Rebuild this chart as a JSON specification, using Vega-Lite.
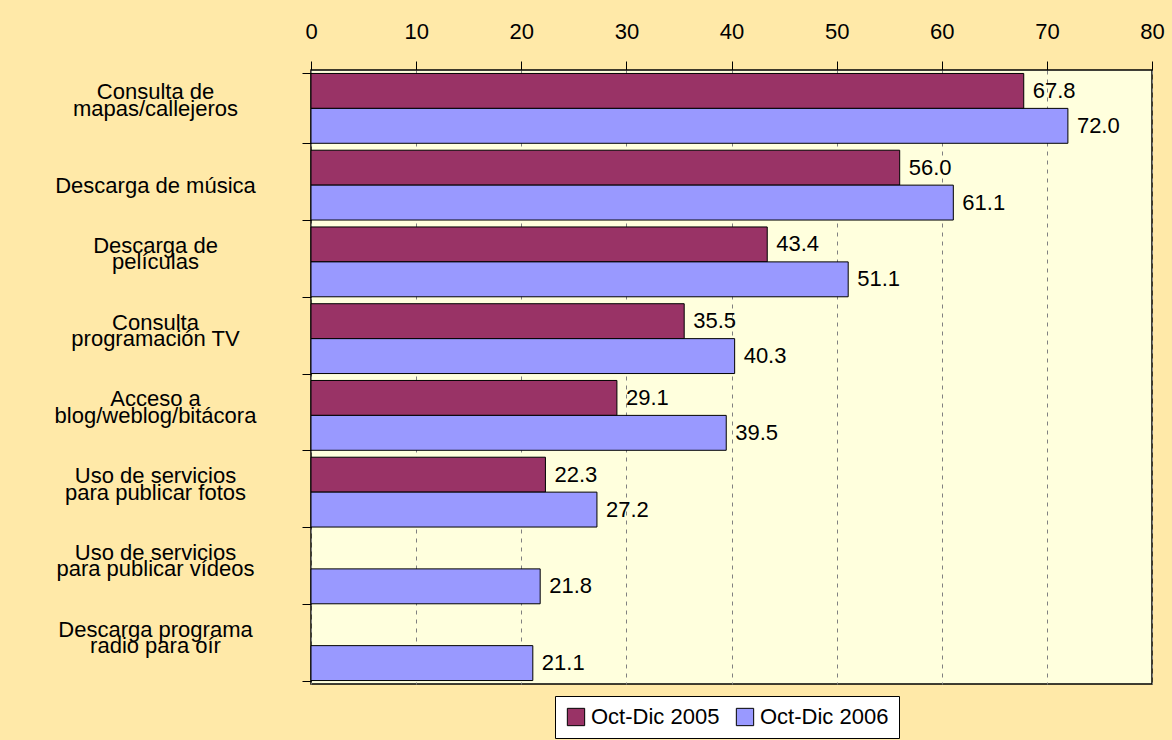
{
  "$schema": "https://vega.github.io/schema/vega-lite/v6.json",
  "width": 841,
  "height": 614,
  "autosize": {"type": "none"},
  "padding": {"left": 311, "top": 70, "right": 20, "bottom": 56},
  "background": "#FFE9A8",
  "data": {
    "values": [
      {"actividad": "Consulta de|mapas/callejeros", "periodo": "Oct-Dic 2005", "valor": 67.8},
      {"actividad": "Consulta de|mapas/callejeros", "periodo": "Oct-Dic 2006", "valor": 72.0},
      {"actividad": "Descarga de música", "periodo": "Oct-Dic 2005", "valor": 56.0},
      {"actividad": "Descarga de música", "periodo": "Oct-Dic 2006", "valor": 61.1},
      {"actividad": "Descarga de|películas", "periodo": "Oct-Dic 2005", "valor": 43.4},
      {"actividad": "Descarga de|películas", "periodo": "Oct-Dic 2006", "valor": 51.1},
      {"actividad": "Consulta|programación TV", "periodo": "Oct-Dic 2005", "valor": 35.5},
      {"actividad": "Consulta|programación TV", "periodo": "Oct-Dic 2006", "valor": 40.3},
      {"actividad": "Acceso a|blog/weblog/bitácora", "periodo": "Oct-Dic 2005", "valor": 29.1},
      {"actividad": "Acceso a|blog/weblog/bitácora", "periodo": "Oct-Dic 2006", "valor": 39.5},
      {"actividad": "Uso de servicios|para publicar fotos", "periodo": "Oct-Dic 2005", "valor": 22.3},
      {"actividad": "Uso de servicios|para publicar fotos", "periodo": "Oct-Dic 2006", "valor": 27.2},
      {"actividad": "Uso de servicios|para publicar vídeos", "periodo": "Oct-Dic 2006", "valor": 21.8},
      {"actividad": "Descarga programa|radio para oír", "periodo": "Oct-Dic 2006", "valor": 21.1}
    ]
  },
  "encoding": {
    "y": {
      "field": "actividad",
      "type": "nominal",
      "sort": null,
      "scale": {"paddingInner": 0.09, "paddingOuter": 0.045},
      "axis": {
        "title": null,
        "domain": false,
        "ticks": true,
        "tickBand": "extent",
        "tickSize": 9,
        "tickColor": "black",
        "tickWidth": 1,
        "labelAlign": "center",
        "labelBaseline": "middle",
        "labelPadding": 147,
        "labelLineHeight": 16.5,
        "labelOffset": -16.5,
        "labelFont": "Liberation Sans",
        "labelFontSize": 22,
        "labelColor": "black",
        "labelLimit": 400,
        "labelExpr": "indexof(datum.label, '|') >= 0 ? [split(datum.label, '|')[0], '\u00a0', split(datum.label, '|')[1]] : ['\u00a0', datum.label]"
      }
    },
    "yOffset": {
      "field": "periodo",
      "type": "nominal",
      "scale": {"domain": ["Oct-Dic 2005", "Oct-Dic 2006"], "paddingInner": 0, "paddingOuter": 0}
    },
    "x": {
      "field": "valor",
      "type": "quantitative",
      "scale": {"domain": [0, 80], "nice": false},
      "axis": {
        "orient": "top",
        "title": null,
        "values": [0, 10, 20, 30, 40, 50, 60, 70, 80],
        "domain": false,
        "grid": true,
        "gridColor": "#808080",
        "gridDash": [4, 5],
        "gridWidth": 1,
        "tickSize": 9,
        "tickColor": "black",
        "tickWidth": 1,
        "labelFont": "Liberation Sans",
        "labelFontSize": 22,
        "labelColor": "black",
        "labelPadding": 18,
        "labelFlush": false
      }
    }
  },
  "layer": [
    {
      "mark": {"type": "bar", "stroke": "black", "strokeWidth": 1},
      "encoding": {
        "color": {
          "field": "periodo",
          "type": "nominal",
          "scale": {"domain": ["Oct-Dic 2005", "Oct-Dic 2006"], "range": ["#993366", "#9999FF"]},
          "legend": {
            "title": null,
            "orient": "none",
            "direction": "horizontal",
            "legendX": 244,
            "legendY": 626,
            "fillColor": "white",
            "strokeColor": "black",
            "padding": 10,
            "symbolType": "square",
            "symbolSize": 300,
            "symbolStrokeColor": "black",
            "symbolStrokeWidth": 1,
            "symbolOpacity": 1,
            "labelFont": "Liberation Sans",
            "labelFontSize": 22,
            "labelColor": "black",
            "columnPadding": 14,
            "labelOffset": 4
          }
        }
      }
    },
    {
      "mark": {"type": "text", "align": "left", "baseline": "middle", "dx": 9, "font": "Liberation Sans", "fontSize": 22, "color": "black"},
      "encoding": {
        "text": {"field": "valor", "type": "quantitative", "format": ".1f"}
      }
    }
  ],
  "config": {
    "view": {"fill": "#FFFFDD", "stroke": "black", "strokeWidth": 1.5}
  }
}
